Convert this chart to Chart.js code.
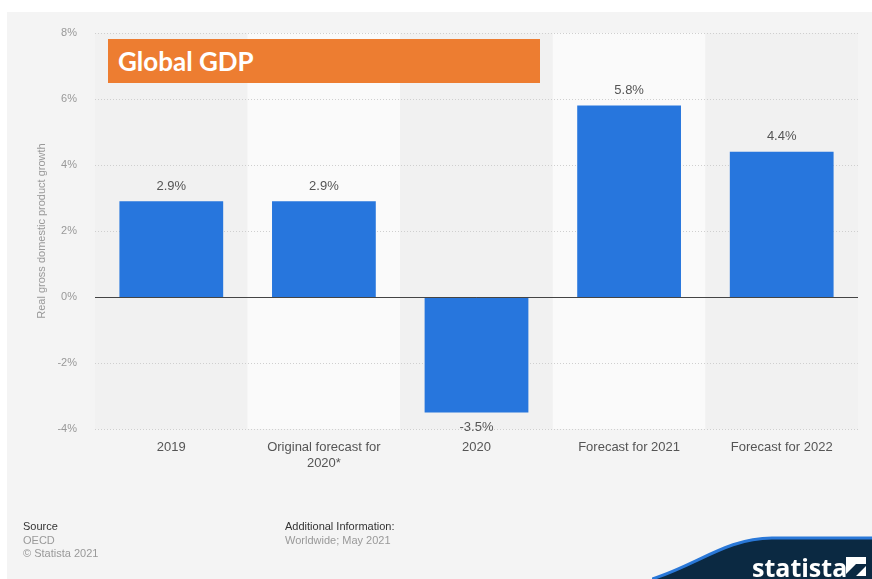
<!DOCTYPE html>
<html>
<head>
<meta charset="utf-8">
<script src="https://cdn.jsdelivr.net/npm/chart.js@4/dist/chart.umd.min.js"></script>
<style>
  html, body { margin: 0; padding: 0; background: #fff; }
  #wrap { position: relative; width: 872px; height: 579px; overflow: hidden; }
  #panel { position: absolute; left: 7px; top: 12px; right: 0; bottom: 0; background: #f4f4f4; }
  #chart { position: absolute; left: 0; top: 0; }
  .foot { position: absolute; font-family: "Liberation Sans", Arial, sans-serif; font-size: 11px; line-height: 13.5px; color: #999; }
  .foot b { font-weight: normal; color: #333; }
  #gdpTitle { position: absolute; left: 108px; top: 39px; width: 432px; height: 44px; background: #ed7d31;
    color: #fff; font-family: Lato, "Open Sans", sans-serif; font-weight: bold; font-size: 26px; line-height: 44px;
    padding-left: 10px; box-sizing: border-box; }
  #logo { position: absolute; right: 0; bottom: 0; }
</style>
</head>
<body>
<div id="wrap">
  <div id="panel"></div>
  <canvas id="chart" width="872" height="579"></canvas>
  <div id="gdpTitle">Global GDP</div>
  <div class="foot" style="left:23px; top:520px;"><b>Source</b><br>OECD<br>© Statista 2021</div>
  <div class="foot" style="left:285px; top:520px;"><b>Additional Information:</b><br>Worldwide; May 2021</div>
  <svg id="logo" width="220" height="46" viewBox="0 0 220 46">
    <path d="M0 46 C45 32 75 5 120 5 L220 5 L220 46 Z" fill="#0b2942"/>
    <path d="M0 46 C45 32 75 5 120 5 L220 5" fill="none" stroke="#2a78d8" stroke-width="3"/>
    <text x="100" y="44" fill="#fff" font-family="'Open Sans', sans-serif" font-weight="bold" font-size="25">statista</text>
    <path d="M194 24 L214 24 L214 31 L204 31 L194 41 Z M194 43 L204 43 L214 33 L214 43 Z" fill="#fff"/>
  </svg>
</div>
<script>
const categories = ['2019', ['Original forecast for', '2020*'], '2020', 'Forecast for 2021', 'Forecast for 2022'];
const growth = [2.9, 2.9, -3.5, 5.8, 4.4];
const yTicks = [-4, -2, 0, 2, 4, 6, 8];

const bandsAndGrid = {
  id: 'bandsAndGrid',
  beforeDatasetsDraw(chart) {
    const { ctx, chartArea, scales: { x, y } } = chart;
    const step = x.width / categories.length;
    ctx.save();
    categories.forEach((c, i) => {
      const cx = x.getPixelForValue(i);
      ctx.fillStyle = i % 2 === 1 ? '#fafafa' : '#f1f1f1';
      ctx.fillRect(cx - step / 2, chartArea.top, step, chartArea.bottom - chartArea.top);
    });
    ctx.strokeStyle = '#cfcfcf';
    ctx.lineWidth = 1;
    ctx.setLineDash([1, 2]);
    yTicks.forEach(v => {
      if (v === 0) return;
      const py = Math.round(y.getPixelForValue(v)) + 0.5;
      ctx.beginPath();
      ctx.moveTo(chartArea.left, py);
      ctx.lineTo(chartArea.right, py);
      ctx.stroke();
    });
    ctx.restore();
  },
  afterDatasetsDraw(chart) {
    const { ctx, chartArea, scales: { y } } = chart;
    const py = Math.round(y.getPixelForValue(0)) + 0.5;
    ctx.save();
    ctx.strokeStyle = '#444';
    ctx.lineWidth = 1;
    ctx.beginPath();
    ctx.moveTo(chartArea.left, py);
    ctx.lineTo(chartArea.right, py);
    ctx.stroke();

    // value labels
    const meta = chart.getDatasetMeta(0);
    ctx.fillStyle = '#555';
    ctx.font = '13px "Liberation Sans", Arial, sans-serif';
    ctx.textAlign = 'center';
    ctx.textBaseline = 'middle';
    meta.data.forEach((bar, i) => {
      const v = growth[i];
      const ly = v >= 0 ? bar.y - 15 : bar.y + 15;
      ctx.fillText(v.toFixed(1) + '%', bar.x, ly);
    });
    ctx.restore();
  }
};

new Chart(document.getElementById('chart').getContext('2d'), {
  type: 'bar',
  data: {
    labels: categories,
    datasets: [{
      data: growth,
      backgroundColor: '#2776dd',
      borderWidth: 0,
      barPercentage: 0.68,
      categoryPercentage: 1
    }]
  },
  options: {
    responsive: false,
    animation: false,
    events: [],
    layout: { padding: { left: 28, right: 14, top: 33, bottom: 90 } },
    plugins: { legend: { display: false }, tooltip: { enabled: false } },
    scales: {
      x: {
        grid: { display: false, drawTicks: false },
        border: { display: false },
        ticks: {
          color: '#555',
          font: { family: '"Liberation Sans", Arial, sans-serif', size: 13, lineHeight: 1.2 },
          padding: 11,
          maxRotation: 0,
          autoSkip: false
        },
        afterFit(scale) { scale.height = 60; }
      },
      y: {
        min: -4,
        max: 8,
        grid: { display: false, drawTicks: false },
        border: { display: false },
        ticks: {
          stepSize: 2,
          color: '#999',
          padding: 18,
          font: { family: '"Liberation Sans", Arial, sans-serif', size: 11 },
          callback: v => v + '%'
        },
        title: {
          display: true,
          text: 'Real gross domestic product growth',
          color: '#999',
          padding: { top: 7, bottom: 0 },
          font: { family: '"Liberation Sans", Arial, sans-serif', size: 11 }
        },
        afterFit(scale) {
          scale.width = 67;
          scale.paddingTop = 0;
          scale.paddingBottom = 0;
        }
      }
    }
  },
  plugins: [bandsAndGrid]
});
</script>
</body>
</html>
